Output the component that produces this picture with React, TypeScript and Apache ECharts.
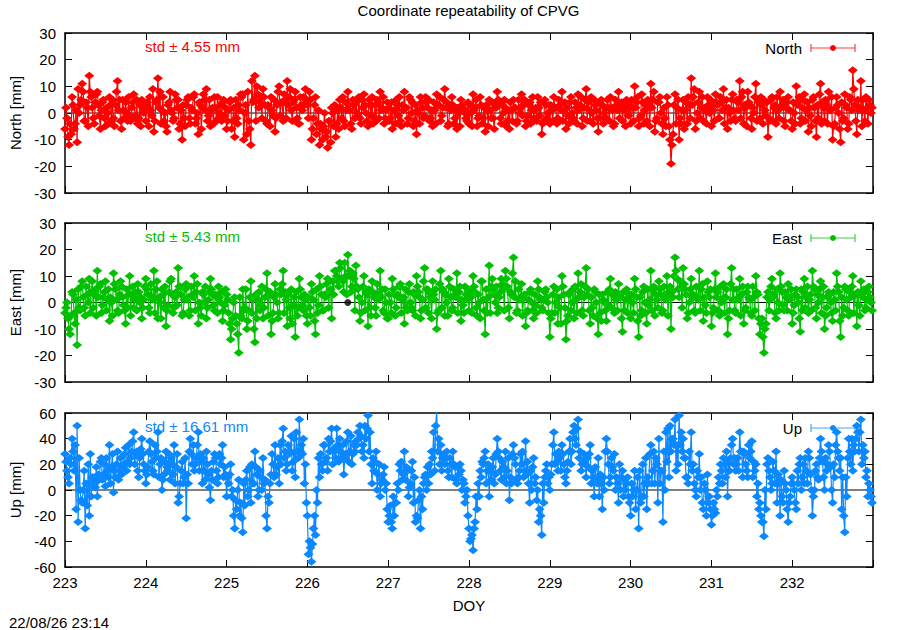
import React, { useEffect, useRef } from "react";
import * as echarts from "echarts";

const TITLE = "Coordinate repeatability of CPVG";
const X_LABEL = "DOY";
const TIMESTAMP = "22/08/26 23:14";
const START_DOY = 223;
const END_DOY = 233;
const STEP = 0.025; // epochs of the "A" arrays; "B" arrays sit half a step later

const componentNames = ["North", "East", "Up"];
const stdValues = ["4.55", "5.43", "16.61"];
const componentColors = ["#ff0000", "#00c000", "#0a88ff"];
const yMin = [-30, -30, -60];
const yMax = [30, 30, 60];
const yStep = [10, 10, 20];

// North [mm], one row per day
const northValuesA = [
  -6, -2, -12, -8, 3, -4, -11, 0, 5, 8, -3, 2, 14, 6, -2, 4, 8, -1, 1, 5, -5, 0, 6, -3, -2, 3, 12, 5, -6, 1, 4, -3, -1, 2, 7, -2, -4, 3, 5, 0,
  -3, 2, 6, -1, -7, 4, 13, 8, 1, -3, -5, 3, 8, 0, -2, 5, 5, -4, -10, -2, 3, 6, -4, 1, 7, -2, -8, 3, 2, 5, 9, -1, -5, 2, 6, -3, -2, 3, 4, -1,
  -6, 1, 5, -3, -9, -2, 3, 7, 7, 0, -8, -3, -12, 4, 14, 10, 2, 6, 9, 3, -4, 2, 6, -1, -7, 3, 10, 4, -3, 5, 12, 6, 1, 4, 8, -2, -4, 3, 6, 9,
  3, 8, -10, -2, 6, -4, -12, -6, -5, -9, -13, -3, 2, -5, -9, 1, 5, -2, -3, 4, 8, 1, -6, 3, 4, -1, -2, 5, 7, 0, -5, 3, 6, -2, -3, 4, 8, 2, -4, 1,
  2, -2, -6, 1, 5, -1, -3, 3, 8, 2, -2, 5, 4, -3, -8, 0, 6, 2, -1, 4, 5, -2, -5, 1, 7, 3, -3, 2, 9, 4, -4, 1, 3, -2, -6, 0, 5, 2, 0, -3,
  -4, 0, 7, 2, -5, -1, 3, -2, -7, 1, 5, -2, -2, 3, 8, 4, -4, 0, 2, -3, -6, 1, 5, 2, -3, 0, 7, 3, -5, -1, 4, 1, -2, 2, 6, -1, -8, -3, 3, 0,
  -4, 1, 6, 2, -2, 3, 8, 1, -6, -1, 4, 0, -3, 2, 7, 3, -5, 2, 9, 4, -3, 0, 5, 1, -7, -2, 3, 0, -2, 2, 6, 1, -4, 3, 8, 2, -3, 1, 5, -1,
  -4, 2, 10, 4, -5, -1, 4, 1, -3, 3, 11, 5, -7, -2, 4, 0, -8, -2, 6, -5, -19, -8, 7, 2, -10, -4, 5, 1, -4, 3, 13, 6, -6, 0, 8, 2, -3, 1, 6, 0,
  -5, 1, 7, 3, -2, 4, 9, 2, -6, 0, 5, 1, -3, 4, 12, 6, -4, 2, 8, 3, -6, 0, 11, 5, -2, 3, 5, -1, -9, -3, 6, 2, -4, 1, 8, 3, -3, 2, 6, 1,
  -6, 0, 10, 4, -4, 2, 7, 1, -7, -1, 5, 2, -9, -2, 11, 4, -3, 3, 8, 1, -10, -4, 6, 0, -11, -3, 7, 2, -4, 5, 16, 3, -8, 1, 12, 5, -3, 2, 5, 0,
];
const northValuesB = [
  2, -9, -4, 6, -6, 1, 9, 3, 11, -3, 4, -5, 8, 2, -4, 7, 3, -6, 4, -2, 2, -4, 3, 5, -5, 8, 1, -3, 5, -2, 0, 6, -3, 4, -1, 5, -2, -5, 2, 3,
  4, -5, 1, 9, -3, 5, 2, -4, 6, 0, -7, 4, 1, -3, 7, 2, -6, 1, 3, -5, 5, -2, 2, 6, -4, 0, 4, -6, 7, 1, -3, 5, 1, -4, 2, 6, 0, -3, 5, 2,
  -3, 4, -6, 2, 5, -4, 1, 6, -10, 3, 8, -6, 12, 5, -3, 7, 4, -2, 6, -3, 3, -5, 1, 5, -2, 8, -1, 4, 7, -2, 3, 9, -3, 5, 2, -4, 6, 1, 3, 5,
  -2, 5, -6, 3, -8, 1, -4, -10, 0, -7, -3, -11, 0, 3, -4, -6, 2, 6, -5, 1, 3, -4, 5, -2, 0, 6, -4, 2, 3, -3, 5, -1, -4, 3, 5, -2, 1, 6, -2, 4,
  -3, 4, 1, -4, 3, 6, -5, 1, 2, -4, 6, 0, -5, 3, 1, -4, 4, -2, 6, 2, -3, 1, 4, -4, 3, 6, -1, 5, 2, -5, 3, 6, -4, 1, 2, -5, 3, 1, -2, 4,
  3, -5, 1, 5, -2, 6, -4, 2, 3, -5, 1, 4, -6, 2, 5, -2, 3, 5, -5, 1, 4, -3, 2, -4, 5, 2, -1, 5, -3, 3, -4, 6, 1, -3, 2, 4, -4, 5, -2, 3,
  3, -3, 2, -4, 5, 1, -3, 4, 2, -4, 6, -2, 4, -4, 1, 6, -2, 5, -3, 1, 6, -4, 3, -2, 4, 5, -4, 2, 5, -3, 2, -5, 5, 1, -2, 4, 3, -5, 2, 3,
  5, -3, 2, 6, -2, 7, -4, 3, 5, -5, 2, 8, -3, 4, 6, -4, 2, -5, 3, -10, -12, 3, -4, 5, -2, 1, -6, 4, 6, -2, 3, 9, -3, 4, -2, 6, 2, -4, 3, 5,
  3, -3, 4, -2, 6, 1, -4, 5, 2, -3, 7, -2, 5, 1, -2, 8, 3, -5, 4, -2, 2, 6, -3, 4, 6, -4, 1, 4, -2, 5, -3, 3, 6, -2, 2, 5, -5, 4, 1, -3,
  4, -4, 3, 6, -2, 5, -3, 4, 2, -5, 6, -3, 3, 7, -4, 2, 5, -4, 1, 6, -5, 2, 3, -6, 4, -2, 3, -6, 6, 1, 9, -3, 5, 2, -5, 1, 6, -4, 3, 2,
];

// East [mm]
const eastValuesA = [
  -4, 0, -10, -5, 3, -8, -16, -2, 6, 2, -5, 3, 9, 4, -2, 5, 12, 6, -4, 2, 8, 1, -7, 0, 11, 5, -3, 3, 6, -1, -8, -2, 10, 3, -2, 4, 7, 0, -6, 1,
  9, 3, -4, 2, 12, 5, -6, 0, 5, -2, -9, -1, 8, 3, -2, 4, 13, 6, -5, 1, 7, 2, -3, 3, 10, 4, -8, -2, 4, 0, -6, 1, 9, 3, -3, 2, 6, 0, -7, -1,
  3, -4, -14, -6, 2, -8, -19, -5, 5, -2, -10, -3, 8, 1, -15, -6, 4, -1, -6, 2, 11, 3, -12, -4, 7, 0, -4, 3, 12, 4, -9, -2, 5, -1, -13, -5, 9, 2, -3, 1,
  -8, -2, 7, 1, -12, -4, 10, 3, -3, 2, 9, 4, -6, 3, 12, 8, 15, 9, 4, 10, 18, 12, 6, 9, 14, 5, -7, 0, 10, 4, -9, -2, 8, 2, -5, 1, 12, 5, -4, 0,
  -6, 0, 9, 3, -2, 2, 7, 1, -8, -2, 4, 0, -3, 3, 10, 4, -6, 1, 13, 5, -4, 2, 8, 1, -10, -3, 12, 5, -5, 0, 9, 2, -2, 3, 11, 4, -7, -1, 6, 1,
  -3, 2, 10, 4, -5, 0, 8, 1, -12, -4, 14, 6, 5, 0, -4, 2, 9, 5, 12, 6, -6, 3, 17, 8, -3, 1, 7, 2, -9, -3, 4, 0, -6, -1, 8, 2, -2, 1, 5, 0,
  -13, -4, 6, 0, -8, -2, 10, 3, -14, -5, 4, 0, -6, 1, 11, 4, -3, 2, 13, 5, -8, -2, 5, 0, -12, -4, 3, 0, -7, -1, 9, 3, -4, 1, 7, 2, -11, -3, 5, 1,
  -6, 0, 9, 2, -13, -5, 4, 0, -8, -1, 12, 5, -5, 1, 8, 3, -3, 2, 10, 4, -10, 2, 17, 9, 2, 6, 13, 5, -6, 0, 9, 3, -4, 2, 12, 5, -7, -1, 8, 2,
  -9, -2, 11, 4, -5, 0, 7, 2, -12, -3, 13, 5, -4, 1, 9, 3, -8, -2, 6, 1, -5, 2, 10, 3, -12, -6, -19, -8, 4, 1, 9, 3, -6, 0, 11, 4, -3, 2, 7, 1,
  -8, -1, 5, 0, -11, -3, 9, 2, -4, 3, 12, 5, -6, 0, 8, 2, -10, -2, 4, 0, -7, 1, 11, 4, -13, -5, 6, 1, -5, 2, 10, 3, -9, -1, 8, 2, -3, 1, 6, 0,
];
const eastValuesB = [
  -2, -6, -12, 4, -4, 1, 5, -3, 8, -2, 6, 0, -4, 8, 3, -5, 2, 7, -1, 4, -3, 5, 2, -5, 7, 1, -4, 8, 2, -3, 5, 3, -5, 6, 1, -3, 4, 2, -2, 6,
  5, -2, 7, 1, -4, 8, 2, -6, 3, 6, -3, 4, 9, -4, 2, -1, 6, 3, -4, 5, 1, -5, 6, 2, -3, 7, 0, -5, 3, 6, -2, 4, 5, -1, 3, -4, 2, 4, -3, 5,
  1, -8, -10, 0, -5, -12, 2, -6, -3, 5, -7, 2, -4, -10, 3, 1, -3, 6, -2, 5, -5, 4, -7, 2, 3, -6, 5, 7, -4, 1, 3, -6, -8, 2, 4, -2, 5, -1, 3, -5,
  2, -5, 4, -7, 5, -1, 6, -3, 3, 7, -2, 5, 8, 12, 10, 6, 13, 8, 15, 3, 10, 4, 11, -3, 6, 2, -4, 6, -3, 3, 5, -5, 4, -2, 7, 3, 2, -3, 5, -6,
  3, -4, 5, -5, 3, 6, -4, 2, 5, -3, 7, -2, 4, -5, 6, 2, -3, 8, -2, 5, 4, -6, 3, 5, -4, 7, -2, 4, 3, -5, 6, -3, 5, 2, -4, 6, 1, -4, 3, 5,
  4, -4, 6, -2, 3, -6, 8, -3, 5, 2, -4, 9, 3, 6, -2, 4, 7, -3, 9, -2, 4, 11, 2, -4, 5, 2, -5, 3, -4, 1, 5, -3, 3, -4, 5, 1, -3, 4, 2, -4,
  -6, 3, -4, 5, 2, -8, 6, -2, -7, 3, -3, 5, 6, -4, 2, 7, -5, 6, 3, -3, 2, -5, 4, -6, 3, -7, 1, -3, 4, 5, -2, 3, 4, -3, 2, -6, 4, 1, -4, 3,
  3, -4, 5, -7, 2, -3, 6, -4, 5, 1, -3, 6, 3, -2, 5, -4, 6, 1, -5, 6, 4, 10, 12, 5, 8, -2, 7, 3, -4, 5, 2, -3, 6, 1, -3, 7, 2, -4, 4, 5,
  -4, 5, 2, -3, 6, 1, -4, 5, -6, 7, 1, -3, 5, 2, -5, 6, -3, 4, 2, -4, 6, -3, 4, -6, -8, -13, -10, 2, -3, 6, 2, -4, 5, -3, 6, -1, 4, -3, 2, 5,
  -4, 3, 2, -6, 5, 4, -2, 6, 1, -3, 6, -2, 3, 5, -4, 6, -5, 2, 3, -4, 4, -3, 6, -7, 2, -2, 5, -3, 4, 6, -4, 3, 4, -5, 3, 5, -2, 4, 2, -3,
];

// Up [mm]
const upValuesA = [
  28, 15, 5, 20, 30, 35, 50, 25, -8, 0, -30, -12, -20, -5, 10, 2, -5, 8, 25, 12, 3, 15, 35, 18, -2, 10, 30, 15, 12, 20, 33, 22, 20, 30, 45, 28, 15, 25, 40, 20,
  5, 18, 38, 22, 12, 25, 45, 20, 0, 12, 30, 15, 8, 20, 35, 18, -10, 5, 22, 10, -22, 5, 40, 20, 15, 25, 45, 28, 5, 15, 30, 12, -8, 8, 28, 15, 10, 20, 35, 18,
  -5, 5, 20, 0, -30, -15, 8, -10, -33, -12, 15, 0, -10, 5, 30, 12, 0, 10, 25, 8, -30, -10, 12, 20, 35, 18, 5, 20, 48, 30, 20, 28, 42, 22, 10, 30, 55, 35, 40, 20,
  -20, -40, -56, -30, -35, -10, 10, 20, 35, 22, 15, 30, 48, 32, 25, 35, 40, 25, 12, 28, 45, 30, 20, 35, 38, 45, 50, 30, 25, 40, 58, 45, 5, 15, 30, 12, -5, 8, 18, 5,
  -25, -12, -30, -20, -10, 0, 15, 8, 30, 18, -5, 5, 22, 10, -20, -8, -30, -15, 10, 0, 5, 12, 25, 15, 62, 40, 35, 25, 20, 30, 10, 20, 30, 18, 5, 12, 15, 8, -10, 0,
  -30, -38, -47, -25, -15, -5, 10, 20, 30, 15, -5, 8, 25, 12, 40, 25, 8, 18, 30, 15, -8, 5, 35, 20, 5, 15, 20, 10, 38, 22, -10, 0, 25, 10, 0, -15, -35, -10, 15, 5,
  0, 20, 45, 28, 15, 25, 35, 20, 5, 22, 40, 30, 50, 35, 55, 30, 20, 28, 10, 18, 35, 15, -5, 8, 25, 12, -15, 0, 40, 20, 10, 18, 28, 10, -10, 0, 15, 8, 5, -5,
  -20, -5, 15, 0, -30, -10, 20, 5, -15, 5, 35, 15, 5, 20, 40, 15, -25, 0, 22, 10, 30, 40, 55, 35, 58, 45, 40, 25, 10, 30, 45, 20, 0, 15, 28, 10, -15, 0, 12, -5,
  -27, -10, -18, -5, 5, 15, 25, 10, -5, 15, 35, 20, 15, 25, 45, 30, 30, 20, 10, 25, 38, 22, 20, 5, -10, -25, -36, -15, 25, 10, 5, 15, 30, 12, -20, -5, 15, 0, -25, -5,
  10, 0, -15, 5, 25, 10, 5, 15, 30, 12, -20, 0, 20, 8, 40, 22, 0, 15, 35, 18, -10, 10, 45, 25, 25, 10, -33, -5, 40, 20, 15, 30, 50, 30, 55, 35, 30, 15, 5, -5,
];
const upValuesB = [
  22, 10, 25, 40, 15, -15, -25, 0, -10, 15, 5, 20, 28, 10, 5, 18, 12, 22, 8, 20, 25, 10, 5, 28, 15, 20, 8, 25, 18, 28, 15, 35, 25, 38, 20, 30, 10, 32, 28, 15,
  12, 30, 28, 15, 35, 30, 10, 25, 8, 22, 18, 28, 25, 12, 5, 28, -5, 15, 5, 25, 12, 30, 28, 35, 20, 35, 15, 22, 25, 8, 20, 2, 15, 22, 25, 5, 28, 25, 10, 12,
  10, 12, -5, -20, -8, 0, -20, -22, 5, 8, -5, 18, 20, 5, 18, -5, 15, 0, 5, -20, -5, 5, 28, 10, 12, 25, 35, 38, 25, 15, 35, 30, 15, 40, 45, 25, 30, 28, 5, -10,
  -50, -45, -42, -20, 0, 25, 28, 15, 35, 25, 40, 38, 20, 30, 48, 22, 30, 35, 25, 38, 22, 42, 28, 30, 35, 40, 42, 35, 50, 48, 30, 20, 25, 22, 0, 20, 5, 12, 0, -15,
  -20, -25, -5, -10, 5, 20, 22, 12, 8, 15, 2, 15, -10, -25, -22, 0, -5, 5, 12, 18, 20, 30, 45, 50, 30, 20, 15, 28, 25, 15, 25, 10, 20, 8, 18, 20, 0, 5, -5, -20,
  -40, -35, -30, -5, 5, 15, 22, 25, 5, 20, 15, 18, 5, 28, 30, 15, 22, 10, 5, 25, 10, 28, 25, 8, 10, 28, 30, 15, 12, 5, 15, 18, 5, -8, -25, -20, 5, 10, 20, 10,
  12, 35, 20, 22, 30, 15, 28, 10, 15, 30, 20, 45, 40, 48, 25, 15, 22, 20, 25, 28, 5, 10, 18, 5, -5, 5, 10, 30, 30, 5, 25, 15, 0, 5, 20, 10, -5, 0, 10, -10,
  5, 0, -15, 10, 15, -5, -5, 25, 10, 28, 5, 30, 25, -10, 5, 15, 30, 45, 48, 50, 40, 35, 15, 20, 35, 30, 25, 10, 5, 20, 15, 5, -5, 10, 0, -10, 5, -20, -10, -15,
  -20, -15, 0, 10, 20, 5, 20, 30, 22, 25, 40, 25, 20, 15, 30, 10, 28, 15, 35, 30, 10, 15, -5, -15, -20, -25, 0, 20, 15, 0, 22, 5, -10, 5, 8, -10, 5, -15, -10, 5,
  5, -10, 15, 20, 0, 20, 25, 5, 25, 0, -5, 15, 10, 25, 30, 10, 25, 20, 30, 0, 20, 35, 30, 15, -15, -20, 10, 25, 30, 40, 35, 40, 45, 45, 20, 25, 10, -5, 0, -10,
];

const seriesA = [northValuesA, eastValuesA, upValuesA];
const seriesB = [northValuesB, eastValuesB, upValuesB];
const trendDoy = [223, 233];
const trendValues = [[0, 0], [0, 0], [0, 0]];
const eastSpecialPoint = [226.5, 0];

const GRID_LEFT = 64;
const GRID_RIGHT = 873;
const gridTops = [33, 223, 413];
const gridHeights = [160, 159, 154];

const FONT = "Liberation Sans, Arial, sans-serif";
const FS = 15;

function mergeEpochs(a: number[], b: number[]) {
  const out: number[][] = [];
  const n = Math.max(a.length, b.length);
  for (let k = 0; k < n; k++) {
    const x = START_DOY + k * STEP;
    if (k < a.length) out.push([x, a[k]]);
    if (k < b.length) out.push([x + STEP / 2, b[k]]);
  }
  return out;
}

export default function App() {
  const ref = useRef<HTMLDivElement>(null);
  useEffect(() => {
    if (!ref.current) return;
    const chart = echarts.init(ref.current, null, { renderer: "svg" });

    const grids: any[] = [];
    const xAxes: any[] = [];
    const yAxes: any[] = [];
    const series: any[] = [];
    const graphics: any[] = [];

    const lineBlack = { color: "#000", width: 1.5 };

    componentNames.forEach((name, i) => {
      grids.push({
        left: GRID_LEFT,
        width: GRID_RIGHT - GRID_LEFT,
        top: gridTops[i],
        height: gridHeights[i],
        show: false,
      });
      const common = {
        type: "value",
        gridIndex: i,
        min: START_DOY,
        max: END_DOY,
        interval: 1,
        splitLine: { show: false },
        axisLine: { show: true, onZero: false, lineStyle: lineBlack },
        axisTick: { show: true, inside: true, length: 7, lineStyle: { color: "#000", width: 1 } },
      };
      xAxes.push({
        ...common,
        position: "bottom",
        axisLabel: {
          show: i === 2,
          fontSize: FS,
          fontFamily: FONT,
          color: "#000",
          margin: 8,
          formatter: (v: number) => (v >= END_DOY ? "" : String(v)),
        },
        name: i === 2 ? X_LABEL : "",
        nameLocation: "middle",
        nameGap: 31,
        nameTextStyle: { fontSize: FS, fontFamily: FONT, color: "#000" },
      });
      xAxes.push({ ...common, position: "top", axisLabel: { show: false } });

      const ycommon = {
        type: "value",
        gridIndex: i,
        min: yMin[i],
        max: yMax[i],
        interval: yStep[i],
        splitLine: { show: false },
        axisLine: { show: true, onZero: false, lineStyle: lineBlack },
        axisTick: { show: true, inside: true, length: 7, lineStyle: { color: "#000", width: 1 } },
      };
      yAxes.push({
        ...ycommon,
        position: "left",
        axisLabel: { fontSize: FS, fontFamily: FONT, color: "#000", margin: 9 },
        name: `${name} [mm]`,
        nameLocation: "middle",
        nameGap: 42,
        nameTextStyle: { fontSize: FS, fontFamily: FONT, color: "#000" },
      });
      yAxes.push({ ...ycommon, position: "right", axisLabel: { show: false } });

      series.push({
        type: "line",
        xAxisIndex: 2 * i,
        yAxisIndex: 2 * i,
        data: trendDoy.map((d, k) => [d, trendValues[i][k]]),
        symbol: "none",
        lineStyle: { color: "#000", width: 1 },
        z: 1,
        silent: true,
      });
      series.push({
        type: "line",
        name,
        xAxisIndex: 2 * i,
        yAxisIndex: 2 * i,
        data: mergeEpochs(seriesA[i], seriesB[i]),
        symbol: "diamond",
        symbolSize: [10, 8],
        showAllSymbol: true,
        lineStyle: { color: componentColors[i], width: 1.2 },
        itemStyle: { color: componentColors[i] },
        clip: true,
        z: 3,
        silent: true,
      });

      const cy = gridTops[i] + 15;
      graphics.push({
        type: "text",
        left: 145,
        top: cy - 9,
        style: {
          text: `std \u00b1 ${stdValues[i]} mm`,
          fill: componentColors[i],
          font: `${FS}px ${FONT}`,
        },
        z: 0,
      });
      graphics.push({
        type: "text",
        x: 802,
        y: cy,
        style: {
          text: name,
          fill: "#000",
          font: `${FS}px ${FONT}`,
          align: "right",
          verticalAlign: "middle",
        },
        z: 0,
      });
      const lc = componentColors[i];
      graphics.push({
        type: "line",
        shape: { x1: 811, y1: cy, x2: 855, y2: cy },
        style: { stroke: lc, lineWidth: 1.2, opacity: 0.75 },
        z: 0,
      });
      graphics.push({
        type: "line",
        shape: { x1: 811, y1: cy - 4, x2: 811, y2: cy + 4 },
        style: { stroke: lc, lineWidth: 1.2, opacity: 0.75 },
        z: 0,
      });
      graphics.push({
        type: "line",
        shape: { x1: 855, y1: cy - 4, x2: 855, y2: cy + 4 },
        style: { stroke: lc, lineWidth: 1.2, opacity: 0.75 },
        z: 0,
      });
      graphics.push({
        type: "circle",
        shape: { cx: 833, cy, r: 3 },
        style: { fill: lc },
        z: 0,
      });
    });

    series.push({
      type: "scatter",
      xAxisIndex: 2,
      yAxisIndex: 2,
      data: [eastSpecialPoint],
      symbol: "circle",
      symbolSize: 7,
      itemStyle: { color: "#000" },
      z: 4,
      silent: true,
    });

    graphics.push({
      type: "text",
      x: (GRID_LEFT + GRID_RIGHT) / 2,
      y: 10,
      style: {
        text: TITLE,
        fill: "#000",
        font: `${FS}px ${FONT}`,
        align: "center",
        verticalAlign: "middle",
      },
    });
    graphics.push({
      type: "text",
      x: 9,
      y: 622,
      style: {
        text: TIMESTAMP,
        fill: "#000",
        font: `${FS}px ${FONT}`,
        align: "left",
        verticalAlign: "middle",
      },
    });

    chart.setOption({
      animation: false,
      backgroundColor: "#fff",
      grid: grids,
      xAxis: xAxes,
      yAxis: yAxes,
      series,
      graphic: graphics,
    });
    return () => chart.dispose();
  }, []);
  return (
    <div
      ref={ref}
      style={{ position: "absolute", left: 0, top: 0, width: 900, height: 630 }}
    />
  );
}
